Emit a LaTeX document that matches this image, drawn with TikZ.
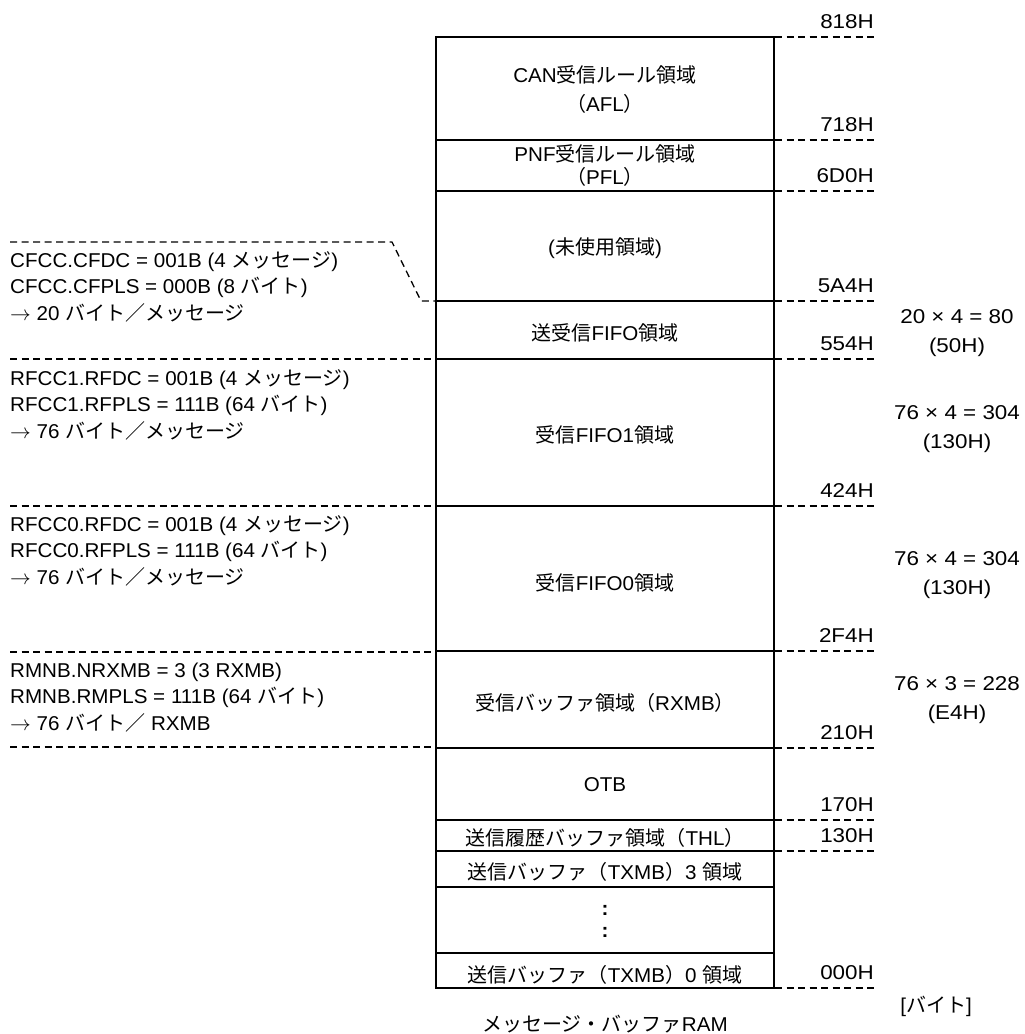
\documentclass[tikz,border=0pt]{standalone}
\usepackage{fontspec}
\setmainfont{Liberation Sans}[FakeStretch=1.03]
\newfontfamily\jpfont{Noto Sans CJK JP}
\newfontfamily\numfont{Liberation Sans}[FakeStretch=1.12]
\newcommand{\jtext}[1]{{\jpfont #1}}
\usetikzlibrary{positioning}

\begin{document}
\begin{tikzpicture}[x=1pt, y=-1pt,
  ramblock/.style={draw, line width=2pt, inner sep=0pt, minimum width=338pt, minimum height=951pt},
  divider/.style={line width=1.3pt},
  guide/.style={line width=1.3pt, dash pattern=on 7pt off 4.5pt},
  area/.style={align=center, inner sep=0pt, font=\fontsize{20}{23}\selectfont},
  addr/.style={anchor=base east, inner sep=0pt, font=\numfont\fontsize{20}{23}\selectfont},
  note/.style={anchor=base west, align=left, inner sep=0pt, font=\fontsize{20}{26.5}\selectfont},
  calc/.style={anchor=base, align=center, inner sep=0pt, font=\numfont\fontsize{20}{29}\selectfont}]
  \useasboundingbox (0,0) rectangle (1025,1034);

  % message buffer RAM
  \node[ramblock] (ram) at (605,512.5) {};
  \foreach \yy in {140,191,301,359,506,651,748,820,851,887,953}
    \draw[divider] (ram.west |- 0,\yy) -- (ram.east |- 0,\yy);

  % areas
  \node[area, font=\fontsize{20}{29}\selectfont] (afl) at (605,89.5) {CAN\jtext{受信ルール領域}\\\jtext{（}AFL\jtext{）}};
  \node[area] (pfl) at (605,165.5) {PNF\jtext{受信ルール領域}\\\jtext{（}PFL\jtext{）}};
  \node[area] (unused) at (605,248) {(\jtext{未使用領域})};
  \node[area] (cfifo) at (605,333) {\jtext{送受信}FIFO\jtext{領域}};
  \node[area] (rfifo1) at (605,435) {\jtext{受信}FIFO1\jtext{領域}};
  \node[area] (rfifo0) at (605,583) {\jtext{受信}FIFO0\jtext{領域}};
  \node[area] (rxmb) at (605,703) {\jtext{受信バッファ領域（}RXMB\jtext{）}};
  \node[area] (otb) at (605,785) {OTB};
  \node[area] (thl) at (605,838) {\jtext{送信履歴バッファ領域（}THL\jtext{）}};
  \node[area] (txmb3) at (605,872) {\jtext{送信バッファ（}TXMB\jtext{）}3 \jtext{領域}};
  \node[area, font=\bfseries\fontsize{20}{22}\selectfont, anchor=base] (dots) at (605,937) {:\\:};
  \node[area] (txmb0) at (605,975) {\jtext{送信バッファ（}TXMB\jtext{）}0 \jtext{領域}};

  % addresses
  \foreach \yy/\lab in {37/818H,140/718H,191/6D0H,301/5A4H,359/554H,506/424H,
                        651/2F4H,748/210H,820/170H,851/130H,988/000H} {
    \coordinate (e\lab) at (874,\yy);
    \draw[guide] (ram.east |- e\lab) -- (e\lab);
    \node[addr] (a\lab) at (874,\yy-9) {\lab};
  }

  % register settings
  \coordinate (c1) at (10,242);
  \coordinate (c2) at (392,242);
  \coordinate (c3) at (421,301);
  \draw[guide] (c1) -- (c2) -- (c3) -- (ram.west |- c3);
  \foreach \yy in {359,506,652,747} {
    \coordinate (l\yy) at (10,\yy);
    \draw[guide] (l\yy) -- (ram.west |- l\yy);
  }
  \node[note] (cfcc) at (10,320) {CFCC.CFDC = 001B (4 \jtext{メッセージ})\\CFCC.CFPLS = 000B (8 \jtext{バイト})\\$\rightarrow$ 20 \jtext{バイト／メッセージ}};
  \node[note] (rfcc1) at (10,438) {RFCC1.RFDC = 001B (4 \jtext{メッセージ})\\RFCC1.RFPLS = 111B (64 \jtext{バイト})\\$\rightarrow$ 76 \jtext{バイト／メッセージ}};
  \node[note] (rfcc0) at (10,584) {RFCC0.RFDC = 001B (4 \jtext{メッセージ})\\RFCC0.RFPLS = 111B (64 \jtext{バイト})\\$\rightarrow$ 76 \jtext{バイト／メッセージ}};
  \node[note] (rmnb) at (10,730) {RMNB.NRXMB = 3 (3 RXMB)\\RMNB.RMPLS = 111B (64 \jtext{バイト})\\$\rightarrow$ 76 \jtext{バイト／} RXMB};

  % sizes
  \node[calc] (scfifo) at (957,352) {20 × 4 = 80\\(50H)};
  \node[calc] (srfifo1) at (957,448) {76 × 4 = 304\\(130H)};
  \node[calc] (srfifo0) at (957,594) {76 × 4 = 304\\(130H)};
  \node[calc] (srxmb) at (957,719) {76 × 3 = 228\\(E4H)};

  \node[area] (unit) at (936,1006) {[\jtext{バイト}]};
  \node[area, below=26pt of ram.south] (caption) {\jtext{メッセージ・バッファ}RAM};
\end{tikzpicture}
\end{document}
